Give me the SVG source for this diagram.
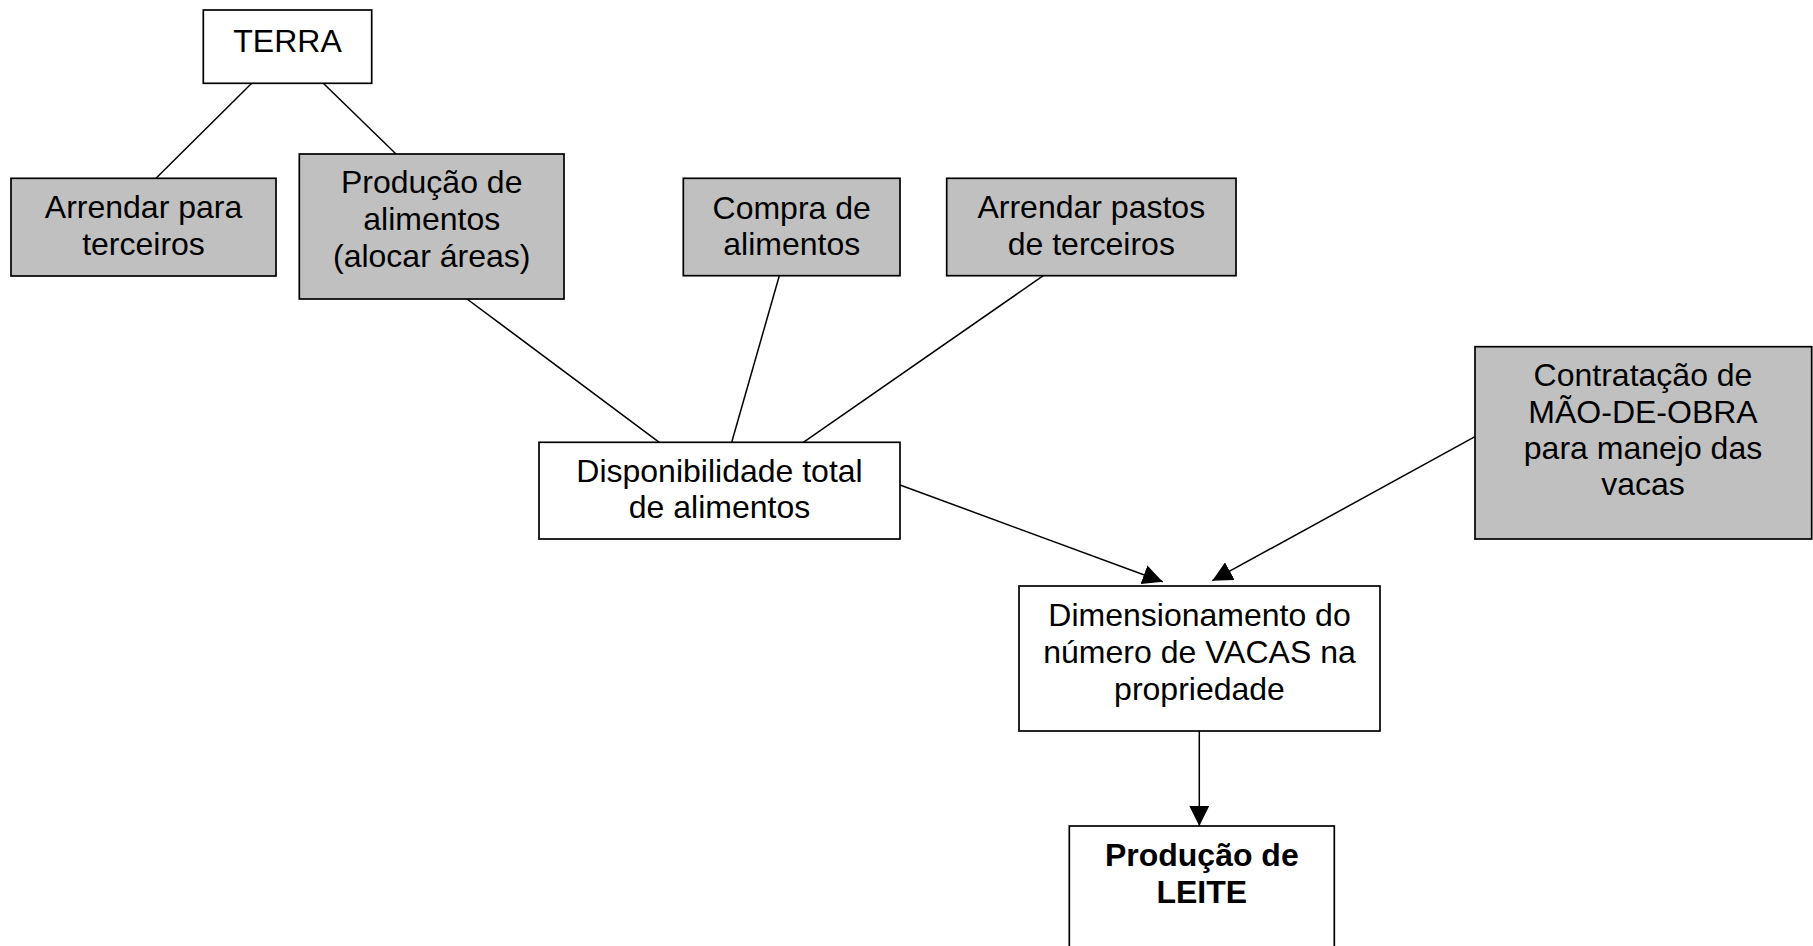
<svg xmlns="http://www.w3.org/2000/svg" width="1813" height="946" viewBox="0 0 1813 946">
<style>
.box{fill:#ffffff;stroke:#000;stroke-width:1.7}
.gray{fill:#c0c0c0;stroke:#000;stroke-width:1.7}
.t{font-family:"Liberation Sans",Arial,sans-serif;font-size:32px;fill:#000;text-anchor:middle}
.b{font-weight:bold}
.ln{stroke:#000;stroke-width:1.5;fill:none}
</style>
<defs>
<marker id="arr" viewBox="0 0 20 20" refX="20" refY="10" markerWidth="20" markerHeight="20" markerUnits="userSpaceOnUse" orient="auto">
<path d="M0,0 L20,10 L0,20 z" fill="#000"/>
</marker>
</defs>
<rect width="1813" height="946" fill="#fff"/>
<g id="connectors">
<line class="ln" x1="251.7" y1="83.3" x2="156" y2="178.3"/>
<line class="ln" x1="323.3" y1="83.3" x2="396" y2="154"/>
<line class="ln" x1="467" y1="299" x2="659.3" y2="442.3"/>
<line class="ln" x1="779.3" y1="275.7" x2="731.7" y2="442.3"/>
<line class="ln" x1="1043.3" y1="275.7" x2="803.3" y2="442.3"/>
<line class="ln" x1="900" y1="485" x2="1162.7" y2="581.7" marker-end="url(#arr)"/>
<line class="ln" x1="1475" y1="436.7" x2="1212.3" y2="580.7" marker-end="url(#arr)"/>
<line class="ln" x1="1199.3" y1="731" x2="1199.3" y2="826" marker-end="url(#arr)"/>
</g>
<g id="terra">
<rect class="box" x="203.3" y="10" width="168.4" height="73.3"/>
<text class="t" x="287.5" y="51.7">TERRA</text>
</g>
<g id="arrendar-terceiros">
<rect class="gray" x="11" y="178.3" width="265" height="97.7"/>
<text class="t" x="143.5" y="218">Arrendar para</text>
<text class="t" x="143.5" y="255">terceiros</text>
</g>
<g id="producao-alimentos">
<rect class="gray" x="299.3" y="154" width="264.7" height="145"/>
<text class="t" x="431.7" y="193.3">Produção de</text>
<text class="t" x="431.7" y="230">alimentos</text>
<text class="t" x="431.7" y="266.7">(alocar áreas)</text>
</g>
<g id="compra-alimentos">
<rect class="gray" x="683.3" y="178.3" width="216.7" height="97.4"/>
<text class="t" x="791.7" y="219">Compra de</text>
<text class="t" x="791.7" y="255">alimentos</text>
</g>
<g id="arrendar-pastos">
<rect class="gray" x="946.7" y="178.3" width="289.3" height="97.4"/>
<text class="t" x="1091.3" y="218.3">Arrendar pastos</text>
<text class="t" x="1091.3" y="255">de terceiros</text>
</g>
<g id="contratacao">
<rect class="gray" x="1475" y="346.7" width="336.7" height="192.3"/>
<text class="t" x="1643" y="386">Contratação de</text>
<text class="t" x="1643" y="422.7">MÃO-DE-OBRA</text>
<text class="t" x="1643" y="459.3">para manejo das</text>
<text class="t" x="1643" y="495">vacas</text>
</g>
<g id="disponibilidade">
<rect class="box" x="539" y="442.3" width="361" height="96.7"/>
<text class="t" x="719.5" y="481.7">Disponibilidade total</text>
<text class="t" x="719.5" y="518.3">de alimentos</text>
</g>
<g id="dimensionamento">
<rect class="box" x="1019" y="586" width="361" height="145"/>
<text class="t" x="1199.5" y="626">Dimensionamento do</text>
<text class="t" x="1199.5" y="662.7">número de VACAS na</text>
<text class="t" x="1199.5" y="700">propriedade</text>
</g>
<g id="producao-leite">
<rect class="box" x="1069.3" y="826" width="265" height="140"/>
<text class="t b" x="1201.8" y="865.7">Produção de</text>
<text class="t b" x="1201.8" y="903.3">LEITE</text>
</g>
</svg>
